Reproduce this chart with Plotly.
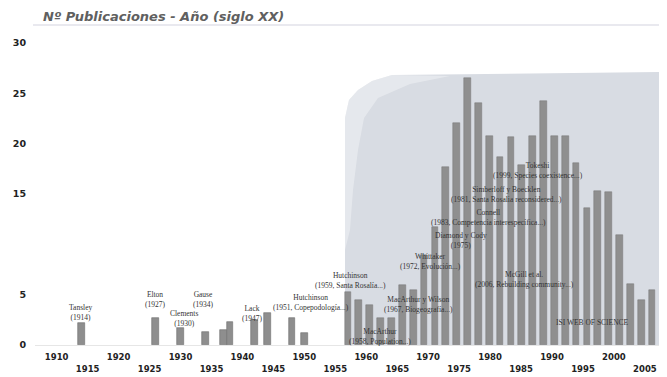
import plotly.graph_objects as go

# ---- data ----
early_years = [1914, 1926, 1930, 1934, 1937, 1938, 1942, 1944, 1948, 1950]
early_counts = [2.2, 2.7, 1.7, 1.3, 1.5, 2.3, 2.5, 3.2, 2.7, 1.2]

# bars of the pasted (scanned) inset chart, in their own order
inset_index = list(range(1, 31))
inset_counts = [5.3, 4.5, 4.0, 2.7, 2.7, 6.0, 5.5, 8.9, 11.7, 17.7,
                22.0, 26.5, 24.0, 20.8, 18.7, 20.7, 17.9, 20.8, 24.2, 20.8,
                20.8, 18.1, 13.6, 15.3, 15.2, 10.9, 6.1, 4.5, 5.5, 2.8]

y_ticks = [0, 5, 15, 20, 25, 30]
x_ticks_upper = [1910, 1920, 1930, 1940, 1950, 1960, 1970, 1980, 1990, 2000]
x_ticks_lower = [1915, 1925, 1935, 1945, 1955, 1965, 1975, 1985, 1995, 2005]

label_texts = [
    "Tansley<br>(1914)",
    "Elton<br>(1927)",
    "Clements<br>(1930)",
    "Gause<br>(1934)",
    "Lack<br>(1947)",
    "Hutchinson<br>(1951, Copepodología...)",
    "Hutchinson<br>(1959, Santa Rosalía...)",
    "MacArthur<br>(1958, Population...)",
    "MacArthur y Wilson<br>(1967, Biogeografía...)",
    "Whittaker<br>(1972, Evolución...)",
    "Diamond y Cody<br>(1975)",
    "Connell<br>(1983, Competencia interespecífica...)",
    "Simberloff y Boecklen<br>(1981, Santa Rosalia reconsidered...)",
    "Tokeshi<br>(1999, Species coexistence...)",
    "McGill et al.<br>(2006, Rebuilding community...)",
    "ISI WEB OF SCIENCE",
]
label_years = [1913.8, 1925.9, 1930.6, 1933.6, 1941.5, 1951.1, 1957.4, 1962.2,
               1968.4, 1970.3, 1975.3, 1979.7, 1982.7, 1987.7, 1985.5, 1996.6]
label_values = [3.18, 4.47, 2.68, 4.47, 3.08, 4.27, 6.45, 0.84,
                4.02, 8.34, 10.33, 12.71, 14.99, 17.33, 6.55, 2.28]

# ---- geometry (the page body adds an 8px margin around the figure) ----
PAGE_OFF = 8
W, H = 667 - PAGE_OFF, 377 - PAGE_OFF
PLOT_L, PLOT_T, PLOT_B = 35, 25, 345          # page pixels
ML, MR = PLOT_L - PAGE_OFF, 0
MT, MB = PLOT_T - PAGE_OFF, 377 - PLOT_B
PW, PH = W - ML - MR, H - MT - MB


def px(xp):
    return (xp - PLOT_L) / PW


def py(yp):
    return (PLOT_B - yp) / PH


def path(points):
    return "M " + " L ".join(f"{px(a):.4f},{py(b):.4f}" for a, b in points) + " Z"


fig = go.Figure()

fig.add_trace(go.Bar(
    x=early_years, y=early_counts, width=1.1,
    marker=dict(color="#8e8e8e", line=dict(color="#6e6e6e", width=0.6)),
    hoverinfo="x+y", showlegend=False,
))
fig.add_trace(go.Bar(
    x=inset_index, y=inset_counts, xaxis="x2", width=0.62,
    marker=dict(color="#8f8f8f", line=dict(color="#777777", width=0.5)),
    hoverinfo="y", showlegend=False,
))
# carrier for the lower row of year labels
fig.add_trace(go.Scatter(x=[], y=[], xaxis="x3", showlegend=False))

tickfont = dict(family="DejaVu Sans", size=8.5, color="#222222", weight="bold")
XR = [1906.5, 2008.57]

fig.update_layout(
    width=W, height=H, autosize=False,
    margin=dict(l=ML, r=MR, t=MT, b=MB, pad=0),
    paper_bgcolor="white", plot_bgcolor="rgba(0,0,0,0)",
    title=dict(
        text="Nº Publicaciones - Año (siglo XX)",
        font=dict(family="DejaVu Sans", size=13, color="#606060",
                  weight="bold", style="italic"),
        xref="paper", x=px(43), xanchor="left",
        yref="container", y=1 - (16 - PAGE_OFF) / H, yanchor="middle",
    ),
    xaxis=dict(
        range=XR, tickmode="array", tickvals=x_ticks_upper,
        ticktext=[str(v) for v in x_ticks_upper], tickfont=tickfont,
        showgrid=False, zeroline=False, showline=True, linecolor="#e6e6e6",
        ticks="", ticklabelstandoff=4,
    ),
    xaxis3=dict(
        overlaying="x", anchor="y", side="bottom",
        range=XR, tickmode="array", tickvals=x_ticks_lower,
        ticktext=[str(v) for v in x_ticks_lower], tickfont=tickfont,
        showgrid=False, zeroline=False, showline=False,
        ticks="", ticklabelstandoff=17,
    ),
    xaxis2=dict(domain=[px(343), 1], anchor="y", range=[0.54, 30.37], visible=False),
    yaxis=dict(
        range=[0, 31.78], tickmode="array", tickvals=y_ticks,
        ticktext=[str(v) for v in y_ticks],
        tickfont=dict(family="DejaVu Sans", size=9.5, color="#222222", weight="bold"),
        showgrid=False, zeroline=False, showline=False, ticks="",
        ticklabelstandoff=8,
    ),
    bargap=0,
)

# scanned inset background
fig.add_shape(type="path", xref="paper", yref="paper", layer="below",
              path=path([(345, 345), (345, 118), (349, 100), (358, 90), (372, 81),
                         (392, 75), (667, 72), (667, 345)]),
              fillcolor="#d8dce3", line=dict(width=0))
fig.add_shape(type="path", xref="paper", yref="paper", layer="below",
              path=path([(345, 118), (345, 250), (350, 230), (353, 190), (358, 150),
                         (364, 118), (378, 98), (410, 84), (450, 76), (392, 75),
                         (372, 81), (358, 90), (349, 100)]),
              fillcolor="rgba(255,255,255,0.35)", line=dict(width=0))
# thin rule under the title
fig.add_shape(type="line", xref="paper", yref="paper", x0=px(33), x1=1, y0=1, y1=1,
              line=dict(color="#e2e2ea", width=1.5))

for txt, xv, yv in zip(label_texts, label_years, label_values):
    fig.add_annotation(x=xv, y=yv, xref="x", yref="y", text=txt, showarrow=False,
                       font=dict(family="Liberation Serif", size=7.5, color="#333333"),
                       xanchor="center", yanchor="middle")

fig.write_html("out.html")
